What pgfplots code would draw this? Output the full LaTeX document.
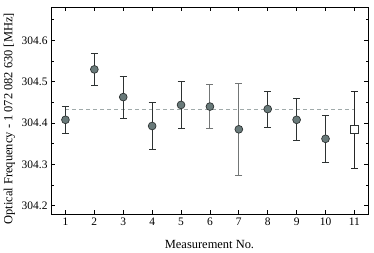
\documentclass[border=0pt]{standalone}
\usepackage{pgfplots}
\pgfplotsset{compat=1.18}
\usepackage{fontspec}
\setmainfont{Liberation Serif}
\definecolor{mfill}{RGB}{105,122,122}
\definecolor{medge}{RGB}{45,50,50}
\definecolor{dline}{RGB}{160,170,170}
\definecolor{ebgray}{RGB}{115,118,118}
\begin{document}
\begin{tikzpicture}
\begin{axis}[
  scale only axis, width=317bp, height=207bp,
  xmin=0.5, xmax=11.47, ymin=304.18, ymax=304.681,
  xtick={1,...,11}, ytick={304.2,304.3,304.4,304.5,304.6},
  minor ytick={304.25,304.35,304.45,304.55,304.65},
  tick align=inside, major tick length=4bp, minor tick length=2.5bp,
  xtick pos=both, ytick pos=both,
  axis line style={line width=0.9pt}, tick style={line width=0.7pt, black},
  /pgf/number format/assume math mode=true,
  yticklabel style={/pgf/number format/fixed, /pgf/number format/precision=1, /pgf/number format/fixed zerofill, font=\fontsize{11.5}{13}\selectfont},
  xticklabel style={font=\fontsize{11.5}{13}\selectfont},
  scaled y ticks=false,
  xlabel={Measurement No.}, ylabel={Optical Frequency - 1 072 082 630 [MHz]},
  label style={font=\fontsize{12.5}{14}\selectfont},
  xlabel style={at={(axis description cs:0.5,-0.1498)}, anchor=center},
  ylabel style={at={(axis description cs:-0.1310,0.46)}, anchor=center},
  error bars/error bar style={line width=1.05pt, color=medge},
  error bars/error mark options={rotate=90, mark size=3.5bp, line width=1.05pt},
]
\addplot[dline, dashed, line width=0.9pt, dash pattern=on 4bp off 3bp, forget plot] coordinates {(1,304.434) (11,304.434)};
\addplot[only marks, mark=*, mark size=3.9bp, mark options={fill=mfill, draw=medge, line width=0.7pt},
  error bars/.cd, y dir=both, y explicit] coordinates {
  (1,304.408) += (0,0.032) -= (0,0.033)
  (2,304.530) += (0,0.039) -= (0,0.039)
  (3,304.463) += (0,0.050) -= (0,0.053)
  (4,304.393) += (0,0.057) -= (0,0.057)
  (5,304.444) += (0,0.057) -= (0,0.056)
  (8,304.434) += (0,0.042) -= (0,0.044)
  (9,304.408) += (0,0.051) -= (0,0.051)
  (10,304.362) += (0,0.056) -= (0,0.058)
};
\addplot[only marks, mark=*, mark size=3.9bp, mark options={fill=mfill, draw=medge, line width=0.7pt},
  error bars/.cd, y dir=both, y explicit, error bar style={color=ebgray, line width=1.05pt}, error mark options={rotate=90, mark size=3.5bp, line width=1.05pt, color=ebgray}] coordinates {
  (6,304.440) += (0,0.053) -= (0,0.052)
  (7,304.385) += (0,0.110) -= (0,0.111)
};
\addplot[only marks, mark=square*, mark size=4bp, mark options={fill=white, draw=medge, line width=0.8pt},
  error bars/.cd, y dir=both, y explicit, error bar style={color=black!85, line width=1.05pt}] coordinates {
  (11,304.384) += (0,0.092) -= (0,0.095)
};
\end{axis}
\pgfresetboundingbox
\path (-51bp,-39bp) rectangle (323bp,214bp);
\end{tikzpicture}
\end{document}
